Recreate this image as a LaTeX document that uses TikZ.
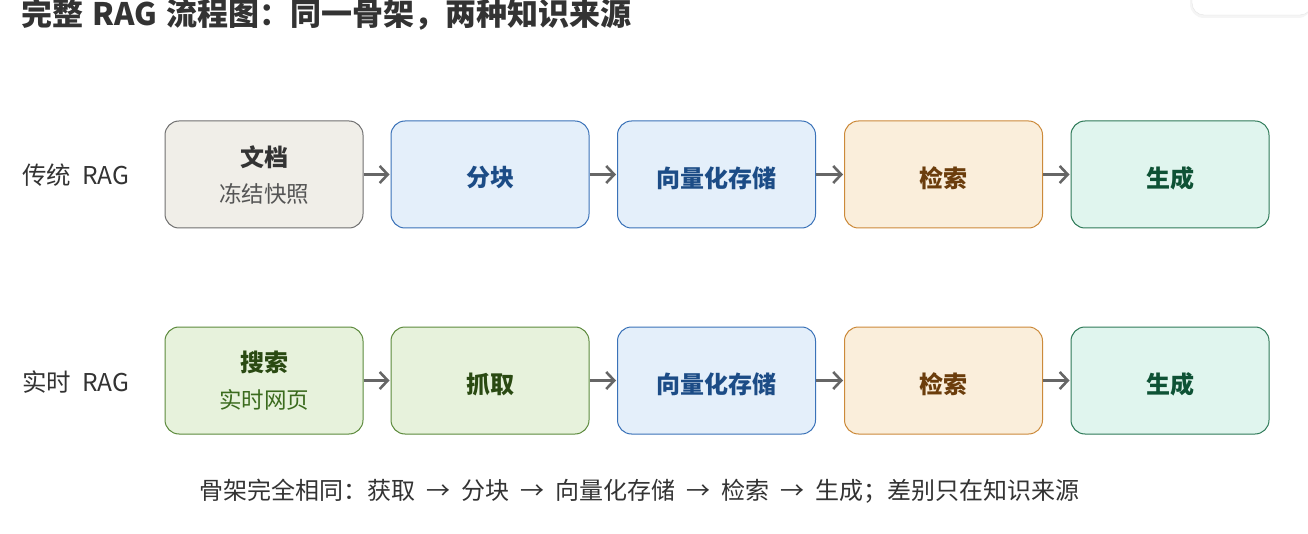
\documentclass[tikz,border=0pt]{standalone}
\usepackage{fontspec}
\setmainfont{Noto Sans CJK SC}
\usetikzlibrary{arrows.meta}
\definecolor{grayfill}{HTML}{F0EEE8}
\definecolor{grayline}{HTML}{707070}
\definecolor{graytext}{HTML}{333333}
\definecolor{graysub}{HTML}{555555}
\definecolor{bluefill}{HTML}{E4EFFA}
\definecolor{blueline}{HTML}{3A72B8}
\definecolor{bluetext}{HTML}{1C4C86}
\definecolor{orfill}{HTML}{FAEEDB}
\definecolor{orline}{HTML}{CC8A3A}
\definecolor{ortext}{HTML}{6B3D0C}
\definecolor{tealfill}{HTML}{E0F5EE}
\definecolor{tealline}{HTML}{2E7A58}
\definecolor{tealtext}{HTML}{0E5235}
\definecolor{grnfill}{HTML}{E7F2DC}
\definecolor{grnline}{HTML}{5C8A3C}
\definecolor{grntext}{HTML}{2A4A12}
\definecolor{grnsub}{HTML}{3B6B1E}
\definecolor{arrowgray}{HTML}{666666}
\tikzset{
  box/.style={rounded corners=14pt, minimum width=198pt, minimum height=107pt, line width=1pt, inner sep=0pt, align=center},
  graybox/.style={box, draw=grayline, fill=grayfill, text=graytext},
  bluebox/.style={box, draw=blueline, fill=bluefill, text=bluetext},
  orbox/.style={box, draw=orline, fill=orfill, text=ortext},
  tealbox/.style={box, draw=tealline, fill=tealfill, text=tealtext},
  grnbox/.style={box, draw=grnline, fill=grnfill, text=grntext},
  boxtext/.style={font=\fontsize{24pt}{28pt}\selectfont\bfseries, inner sep=0pt},
  subtext/.style={font=\fontsize{22.5pt}{26pt}\selectfont, inner sep=0pt},
  flow/.style={draw=arrowgray, line width=2.6pt, -{Straight Barb[length=8pt,width=17pt,line width=2.6pt]}, shorten >=1pt},
  rowlabel/.style={anchor=west, text=graytext, inner sep=0pt, font=\fontsize{24.5pt}{28pt}\selectfont},
}
\newcommand{\arsp}{\hspace{0.46em}→\hspace{0.46em}}
\begin{document}
\begin{tikzpicture}[x=1pt,y=-1pt]
\useasboundingbox (0,0) rectangle (1308,534);
\fill[white] (0,0) rectangle (1308,534);
% cropped widget at top right
\fill[black!4, rounded corners=14pt] (1190,-20) rectangle (1312,18);
\draw[black!10, fill=white, rounded corners=12pt] (1192,-20) rectangle (1312,15);
\node[anchor=west, text=graytext, font=\fontsize{31pt}{34pt}\selectfont\bfseries, inner sep=0pt] (title) at (21,14) {完整\hspace{0.3em}RAG\hspace{0.3em}流程图：同一骨架，两种知识来源};
% row labels
\node[rowlabel] (l1) at (22,175) {传统\hspace{0.45em}RAG};
\node[rowlabel] (l2) at (22,382) {实时\hspace{0.45em}RAG};
% row 1
\node[graybox] (a1) at (264,174.5) {};
\node[boxtext, text=graytext] (a1t) at (264,157) {文档};
\node[subtext, text=graysub] (a1s) at (264,194) {冻结快照};
\node[bluebox] (a2) at (490,174.5) {};
\node[boxtext, text=bluetext] (a2t) at (490,178) {分块};
\node[bluebox] (a3) at (716.5,174.5) {};
\node[boxtext, text=bluetext] (a3t) at (716.5,178) {向量化存储};
\node[orbox] (a4) at (943.5,174.5) {};
\node[boxtext, text=ortext] (a4t) at (943.5,178) {检索};
\node[tealbox] (a5) at (1170,174.5) {};
\node[boxtext, text=tealtext] (a5t) at (1170,178) {生成};
% row 2
\node[grnbox] (b1) at (264,380.5) {};
\node[boxtext, text=grntext] (b1t) at (264,362) {搜索};
\node[subtext, text=grnsub] (b1s) at (264,400) {实时网页};
\node[grnbox] (b2) at (490,380.5) {};
\node[boxtext, text=grntext] (b2t) at (490,384) {抓取};
\node[bluebox] (b3) at (716.5,380.5) {};
\node[boxtext, text=bluetext] (b3t) at (716.5,384) {向量化存储};
\node[orbox] (b4) at (943.5,380.5) {};
\node[boxtext, text=ortext] (b4t) at (943.5,384) {检索};
\node[tealbox] (b5) at (1170,380.5) {};
\node[boxtext, text=tealtext] (b5t) at (1170,384) {生成};
% arrows
\draw[flow] (a1) -- (a2);
\draw[flow] (a2) -- (a3);
\draw[flow] (a3) -- (a4);
\draw[flow] (a4) -- (a5);
\draw[flow] (b1) -- (b2);
\draw[flow] (b2) -- (b3);
\draw[flow] (b3) -- (b4);
\draw[flow] (b4) -- (b5);
% footer
\node[text=graytext, font=\fontsize{24pt}{28pt}\selectfont, inner sep=0pt, anchor=west] (foot) at (199,491) {骨架完全相同：获取\arsp 分块\arsp 向量化存储\arsp 检索\arsp 生成；差别只在知识来源};
\end{tikzpicture}
\end{document}
